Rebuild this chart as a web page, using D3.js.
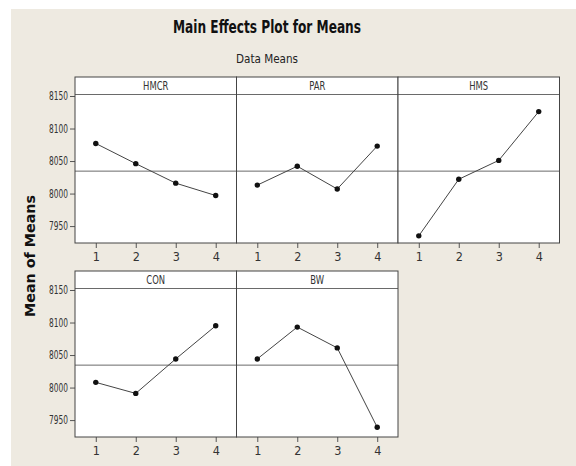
<!DOCTYPE html>
<html>
<head>
<meta charset="utf-8">
<script src="https://cdn.jsdelivr.net/npm/d3@7"></script>
<style>
  html, body { margin: 0; padding: 0; background: #ffffff; }
  svg { display: block; }
</style>
</head>
<body>
<script>
const factors = ["HMCR", "PAR", "HMS", "CON", "BW"];
const levels = [1, 2, 3, 4];
const hmcr = [8077, 8046, 8016, 7997];
const par  = [8013, 8042, 8007, 8073];
const hms  = [7935, 8022, 8051, 8126];
const con  = [8008, 7991, 8044, 8095];
const bw   = [8044, 8093, 8061, 7939];
const grandMean = 8034.5;
const yTicks = [7950, 8000, 8050, 8100, 8150];
const seriesValues = [hmcr, par, hms, con, bw];

const W = 576, H = 466;
const svg = d3.select("body").append("svg").attr("width", W).attr("height", H);
svg.append("rect").attr("x", 11).attr("y", 9).attr("width", W - 11).attr("height", H - 9).attr("fill", "#eeeae1");

const font = "'DejaVu Sans Condensed', 'DejaVu Sans', sans-serif";

// condense a text selection horizontally by factor
function condense(sel, factor) {
  sel.each(function () {
    const len = this.getComputedTextLength();
    d3.select(this).attr("textLength", len * factor).attr("lengthAdjust", "spacingAndGlyphs");
  });
}
function fitWidth(sel, w) {
  sel.attr("textLength", w).attr("lengthAdjust", "spacingAndGlyphs");
}

fitWidth(svg.append("text").attr("x", 267).attr("y", 33).attr("text-anchor", "middle")
  .attr("font-family", font).attr("font-weight", "bold").attr("font-size", 18)
  .attr("fill", "#111").text("Main Effects Plot for Means"), 188);
fitWidth(svg.append("text").attr("x", 267).attr("y", 63).attr("text-anchor", "middle")
  .attr("font-family", font).attr("font-size", 13)
  .attr("fill", "#222").text("Data Means"), 62);
fitWidth(svg.append("text").attr("transform", "translate(34.5,256) rotate(-90)").attr("text-anchor", "middle")
  .attr("font-family", "'DejaVu Sans', sans-serif").attr("font-weight", "bold").attr("font-size", 14.5)
  .attr("fill", "#111").text("Mean of Means"), 122);

const panelLeft = 75, panelW = 161.5;
const rowTop = [77, 271], rowH = 166, headerH = 17.5;

const x = d3.scaleLinear().domain([0.48, 4.52]).range([0, panelW]);
const y = d3.scaleLinear().domain([7924, 8150]).range([rowH, rowH - 147]);

factors.forEach((f, i) => {
  const row = i < 3 ? 0 : 1;
  const col = i < 3 ? i : i - 3;
  const g = svg.append("g").attr("transform", `translate(${panelLeft + col * panelW},${rowTop[row]})`);
  g.append("rect").attr("width", panelW).attr("height", rowH).attr("fill", "#ffffff");
  g.append("line").attr("x1", 0).attr("x2", panelW).attr("y1", y(grandMean)).attr("y2", y(grandMean))
    .attr("stroke", "#6a6a6a").attr("stroke-width", 1);
  g.append("line").attr("x1", 0).attr("x2", panelW).attr("y1", headerH).attr("y2", headerH)
    .attr("stroke", "#6a6a6a").attr("stroke-width", 1);
  condense(g.append("text").attr("x", panelW / 2).attr("y", headerH / 2 + 4.5).attr("text-anchor", "middle")
    .attr("font-family", font).attr("font-size", 12).attr("fill", "#333").text(f), 0.78);
  const vals = seriesValues[i];
  const line = d3.line().x((d, k) => x(levels[k])).y(d => y(d));
  g.append("path").attr("d", line(vals)).attr("fill", "none").attr("stroke", "#444").attr("stroke-width", 1);
  g.selectAll("circle").data(vals).enter().append("circle")
    .attr("cx", (d, k) => x(levels[k])).attr("cy", d => y(d)).attr("r", 2.7).attr("fill", "#111");
  const xa = g.append("g").attr("transform", `translate(0,${rowH})`)
    .call(d3.axisBottom(x).tickValues(levels).tickSize(5).tickPadding(4).tickFormat(d3.format("d")));
  xa.select(".domain").remove();
  xa.selectAll("line").attr("stroke", "#555");
  xa.selectAll("text").attr("font-family", font).attr("font-size", 12.5).attr("fill", "#333");
  if (col === 0) {
    const ya = g.append("g").call(d3.axisLeft(y).tickValues(yTicks).tickSize(5).tickPadding(2).tickFormat(d3.format("d")));
    ya.select(".domain").remove();
    ya.selectAll("line").attr("stroke", "#555");
    const yt = ya.selectAll("text").attr("font-family", font).attr("font-size", 11.5).attr("fill", "#333");
    condense(yt, 0.72);
  }
  g.append("rect").attr("width", panelW).attr("height", rowH).attr("fill", "none")
    .attr("stroke", "#444").attr("stroke-width", 1);
});
</script>
</body>
</html>
